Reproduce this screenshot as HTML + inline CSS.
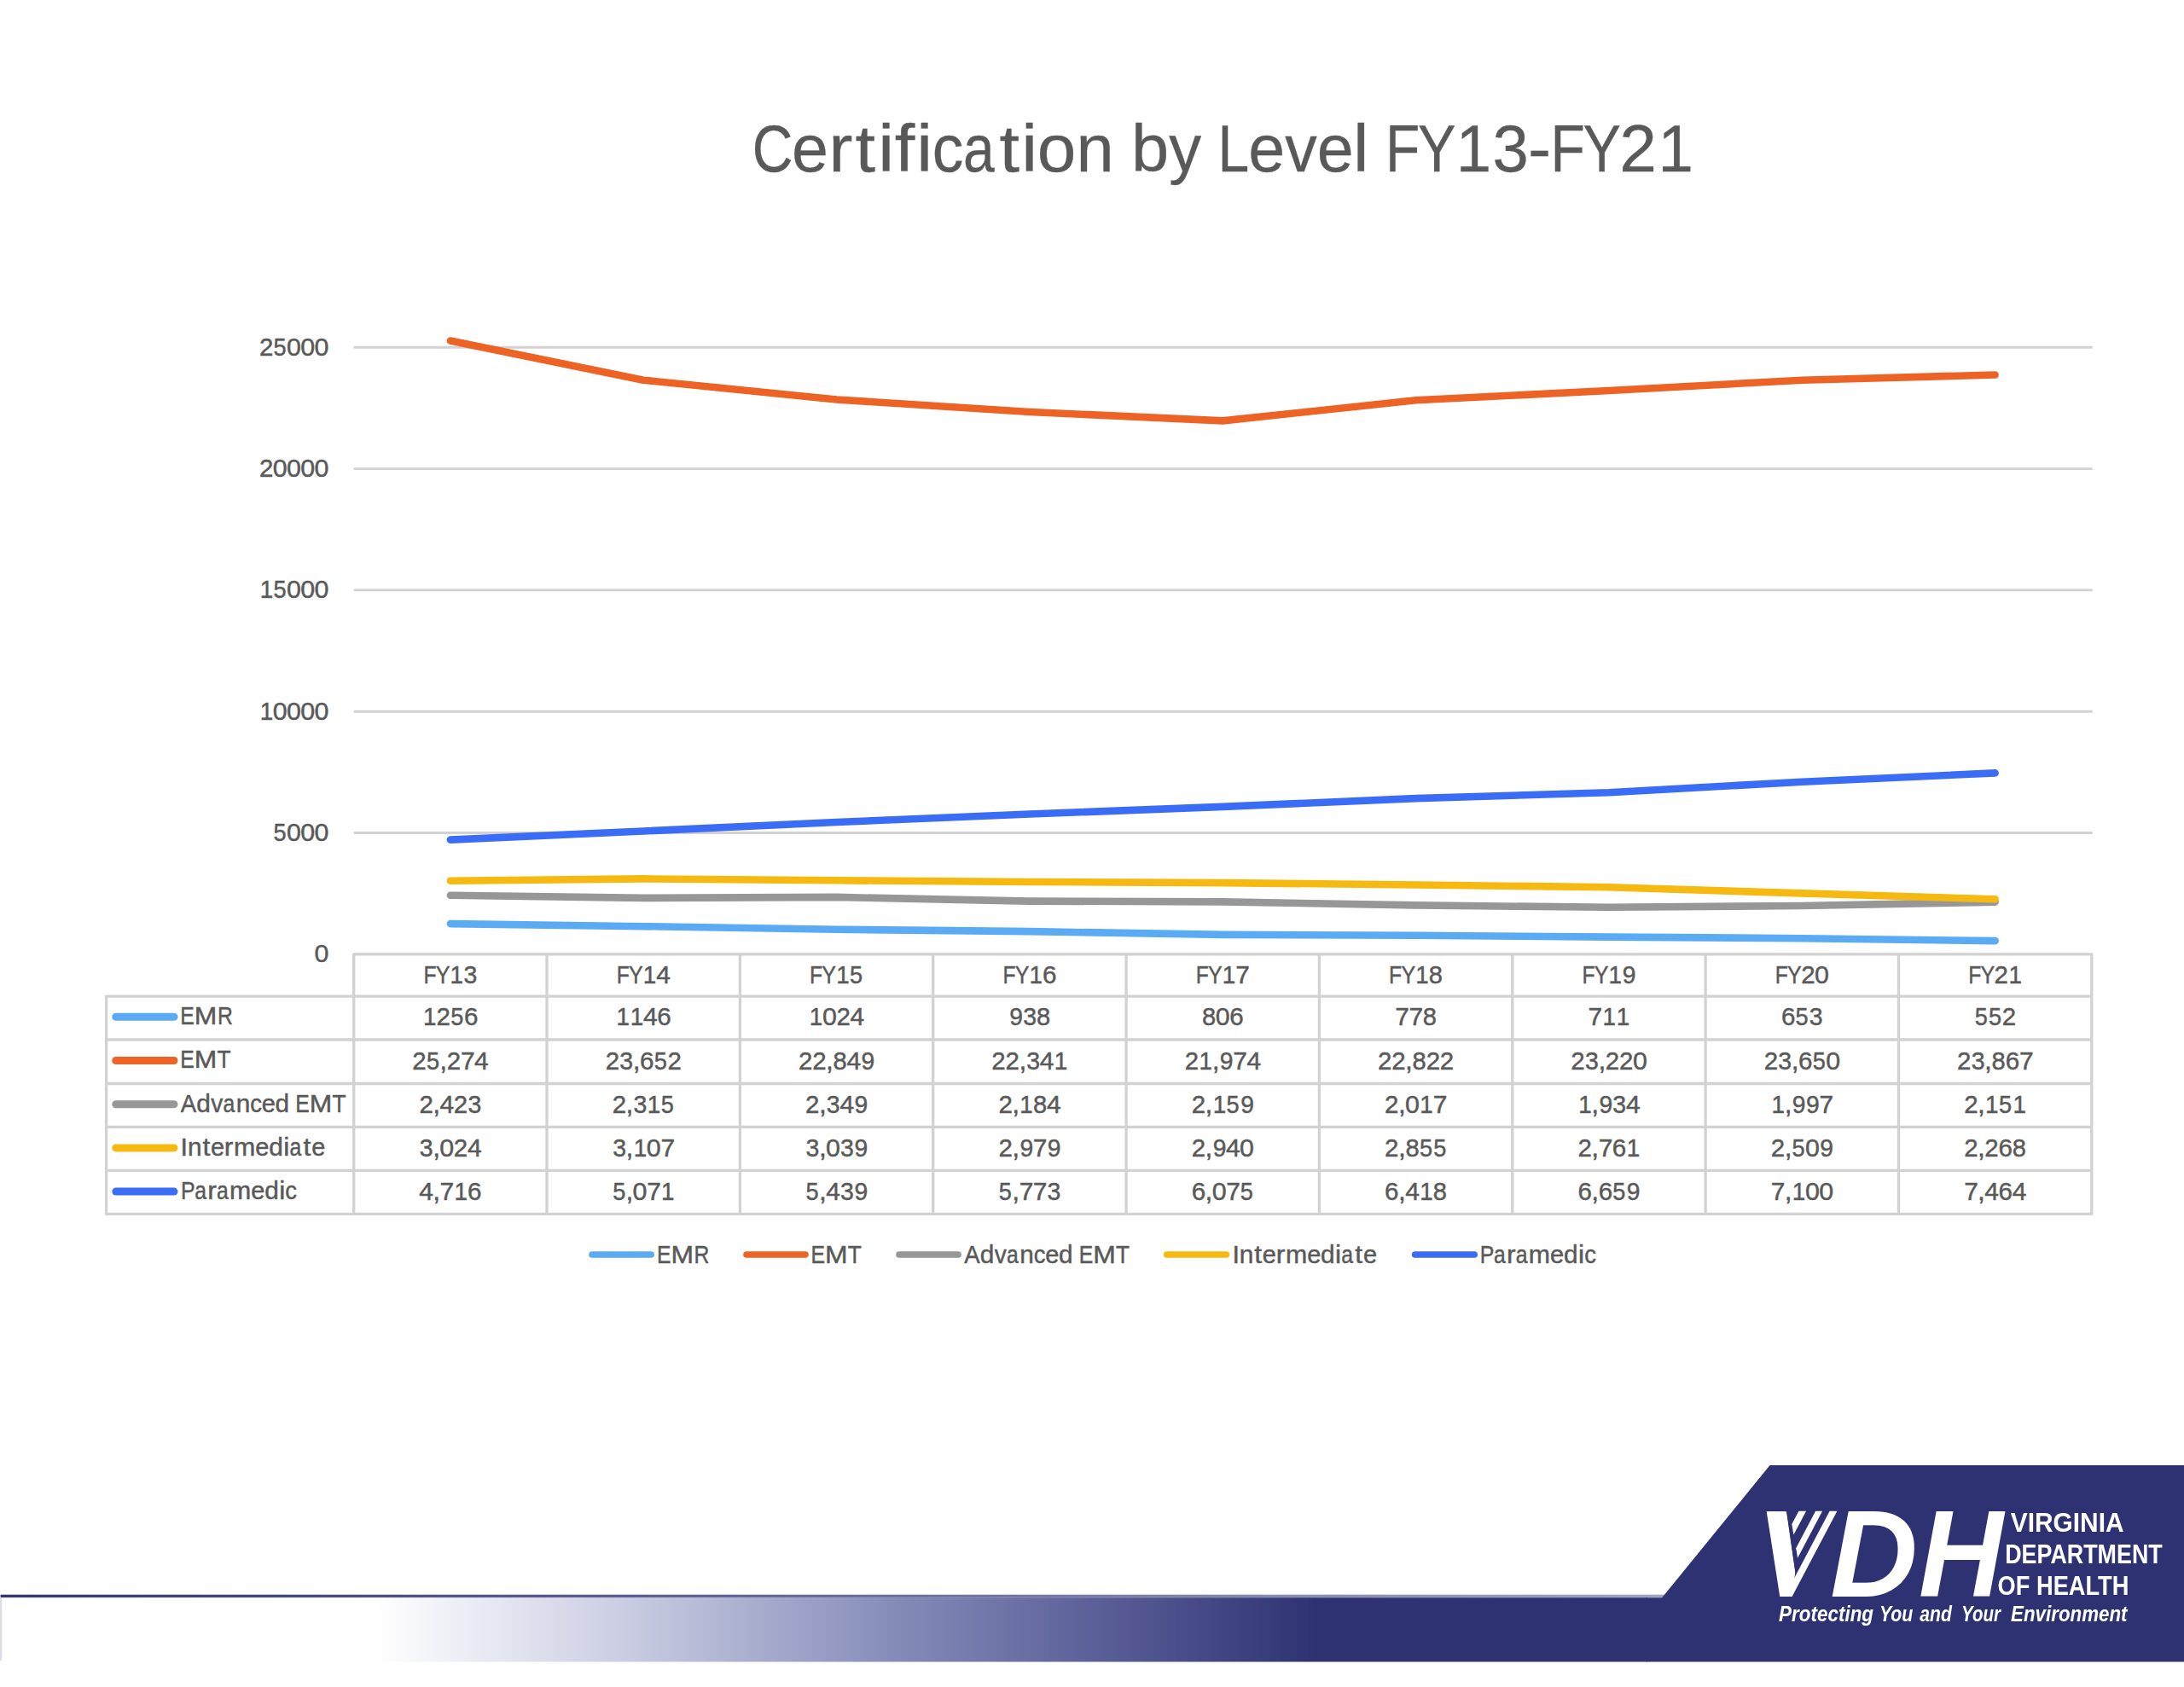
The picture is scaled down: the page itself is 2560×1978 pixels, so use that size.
<!DOCTYPE html>
<html lang="en"><head><meta charset="utf-8"><title>Certification by Level FY13-FY21</title>
<style>html,body{margin:0;padding:0;background:#fff}body{width:2560px;height:1978px;overflow:hidden}
svg{display:block}text{font-family:"Liberation Sans",sans-serif;fill:#595959;stroke:#595959;stroke-width:0.45px;white-space:pre}
.t{font-size:29.5px}.ti{font-size:78.6px;stroke-width:0.3px}
text.lg{fill:#fff;stroke:none}
</style></head><body>
<svg width="2560" height="1978" viewBox="0 0 2560 1978">
<defs><linearGradient id="bar" gradientUnits="userSpaceOnUse" x1="441" x2="1545" y1="0" y2="0"><stop offset="0" stop-color="#fff"/><stop offset="0.25" stop-color="#cdd0e4"/><stop offset="0.55" stop-color="#858cb9"/><stop offset="0.8" stop-color="#545892"/><stop offset="1" stop-color="#2e3272"/></linearGradient><linearGradient id="lineg" gradientUnits="userSpaceOnUse" x1="0" x2="1950" y1="0" y2="0"><stop offset="0" stop-color="#2e3272" stop-opacity="0.98"/><stop offset="1" stop-color="#2e3272" stop-opacity="0.45"/></linearGradient><filter id="soft2" x="-2%" y="-200%" width="104%" height="500%"><feGaussianBlur stdDeviation="0.7"/></filter><filter id="soft" x="-2%" y="-10%" width="104%" height="120%"><feGaussianBlur stdDeviation="0.7"/></filter></defs>
<rect width="2560" height="1978" fill="#fff"/>
<g stroke="#d2d2d2" stroke-width="2.9" fill="none">
<line x1="414.7" x2="2452.7" y1="976.5" y2="976.5"/>
<line x1="414.7" x2="2452.7" y1="834.2" y2="834.2"/>
<line x1="414.7" x2="2452.7" y1="691.9" y2="691.9"/>
<line x1="414.7" x2="2452.7" y1="549.6" y2="549.6"/>
<line x1="414.7" x2="2452.7" y1="407.3" y2="407.3"/>
</g>
<g stroke="#d2d2d2" stroke-width="3.3" fill="none" stroke-linejoin="round">
<path d="M414.7,1118.8 H2451.8 V1423.4 H124.6 V1168.2 H414.7 Z"/>
<line x1="414.7" x2="2451.8" y1="1168.2" y2="1168.2"/>
<line x1="124.6" x2="2451.8" y1="1219.0" y2="1219.0"/>
<line x1="124.6" x2="2451.8" y1="1270.5" y2="1270.5"/>
<line x1="124.6" x2="2451.8" y1="1321.4" y2="1321.4"/>
<line x1="124.6" x2="2451.8" y1="1372.4" y2="1372.4"/>
<line x1="414.7" x2="414.7" y1="1168.2" y2="1423.4"/>
<line x1="641.0" x2="641.0" y1="1118.8" y2="1423.4"/>
<line x1="867.4" x2="867.4" y1="1118.8" y2="1423.4"/>
<line x1="1093.7" x2="1093.7" y1="1118.8" y2="1423.4"/>
<line x1="1320.1" x2="1320.1" y1="1118.8" y2="1423.4"/>
<line x1="1546.4" x2="1546.4" y1="1118.8" y2="1423.4"/>
<line x1="1772.8" x2="1772.8" y1="1118.8" y2="1423.4"/>
<line x1="1999.1" x2="1999.1" y1="1118.8" y2="1423.4"/>
<line x1="2225.5" x2="2225.5" y1="1118.8" y2="1423.4"/>
</g>
<text class="ti" y="200.6"><tspan x="881.76" textLength="47.68" lengthAdjust="spacingAndGlyphs">C</tspan><tspan x="928.04" textLength="42.95" lengthAdjust="spacingAndGlyphs">e</tspan><tspan x="971.16" textLength="28.27" lengthAdjust="spacingAndGlyphs">r</tspan><tspan x="1002.51" textLength="23.58" lengthAdjust="spacingAndGlyphs">t</tspan><tspan x="1029.28" textLength="18.86" lengthAdjust="spacingAndGlyphs">i</tspan><tspan x="1048.68" textLength="23.58" lengthAdjust="spacingAndGlyphs">f</tspan><tspan x="1074.26" textLength="18.86" lengthAdjust="spacingAndGlyphs">i</tspan><tspan x="1092.83" textLength="36.57" lengthAdjust="spacingAndGlyphs">c</tspan><tspan x="1128.93" textLength="36.72" lengthAdjust="spacingAndGlyphs">a</tspan><tspan x="1171.41" textLength="23.58" lengthAdjust="spacingAndGlyphs">t</tspan><tspan x="1197.39" textLength="18.86" lengthAdjust="spacingAndGlyphs">i</tspan><tspan x="1215.71" textLength="45.63" lengthAdjust="spacingAndGlyphs">o</tspan><tspan x="1261.57" textLength="44.23" lengthAdjust="spacingAndGlyphs">n</tspan><tspan x="1305.84"> </tspan><tspan x="1326.00" textLength="44.20" lengthAdjust="spacingAndGlyphs">b</tspan><tspan x="1370.22" textLength="37.91" lengthAdjust="spacingAndGlyphs">y</tspan><tspan x="1408.14"> </tspan><tspan x="1427.55" textLength="36.72" lengthAdjust="spacingAndGlyphs">L</tspan><tspan x="1463.13" textLength="42.95" lengthAdjust="spacingAndGlyphs">e</tspan><tspan x="1506.27" textLength="37.46" lengthAdjust="spacingAndGlyphs">v</tspan><tspan x="1543.69" textLength="42.95" lengthAdjust="spacingAndGlyphs">e</tspan><tspan x="1585.97" textLength="18.53" lengthAdjust="spacingAndGlyphs">l</tspan><tspan x="1605.04"> </tspan><tspan x="1624.02" textLength="40.33" lengthAdjust="spacingAndGlyphs">F</tspan><tspan x="1662.06" textLength="44.50" lengthAdjust="spacingAndGlyphs">Y</tspan><tspan x="1706.81" textLength="41.32" lengthAdjust="spacingAndGlyphs">1</tspan><tspan x="1749.40" textLength="42.27" lengthAdjust="spacingAndGlyphs">3</tspan><tspan x="1791.07" textLength="27.16" lengthAdjust="spacingAndGlyphs">-</tspan><tspan x="1817.38" textLength="40.33" lengthAdjust="spacingAndGlyphs">F</tspan><tspan x="1855.42" textLength="44.50" lengthAdjust="spacingAndGlyphs">Y</tspan><tspan x="1898.34" textLength="43.68" lengthAdjust="spacingAndGlyphs">2</tspan><tspan x="1943.41" textLength="41.32" lengthAdjust="spacingAndGlyphs">1</tspan></text>
<text class="t" y="1128.2"><tspan x="368.55" textLength="16.94" lengthAdjust="spacingAndGlyphs">0</tspan></text>
<text class="t" y="985.9"><tspan x="320.62" textLength="15.10" lengthAdjust="spacingAndGlyphs">5</tspan><tspan x="336.11" textLength="16.94" lengthAdjust="spacingAndGlyphs">0</tspan><tspan x="352.33" textLength="16.94" lengthAdjust="spacingAndGlyphs">0</tspan><tspan x="368.55" textLength="16.94" lengthAdjust="spacingAndGlyphs">0</tspan></text>
<text class="t" y="843.6"><tspan x="304.68" textLength="15.50" lengthAdjust="spacingAndGlyphs">1</tspan><tspan x="319.89" textLength="16.94" lengthAdjust="spacingAndGlyphs">0</tspan><tspan x="336.11" textLength="16.94" lengthAdjust="spacingAndGlyphs">0</tspan><tspan x="352.33" textLength="16.94" lengthAdjust="spacingAndGlyphs">0</tspan><tspan x="368.55" textLength="16.94" lengthAdjust="spacingAndGlyphs">0</tspan></text>
<text class="t" y="701.3"><tspan x="304.68" textLength="15.50" lengthAdjust="spacingAndGlyphs">1</tspan><tspan x="320.62" textLength="15.10" lengthAdjust="spacingAndGlyphs">5</tspan><tspan x="336.11" textLength="16.94" lengthAdjust="spacingAndGlyphs">0</tspan><tspan x="352.33" textLength="16.94" lengthAdjust="spacingAndGlyphs">0</tspan><tspan x="368.55" textLength="16.94" lengthAdjust="spacingAndGlyphs">0</tspan></text>
<text class="t" y="559.0"><tspan x="303.99" textLength="16.39" lengthAdjust="spacingAndGlyphs">2</tspan><tspan x="319.89" textLength="16.94" lengthAdjust="spacingAndGlyphs">0</tspan><tspan x="336.11" textLength="16.94" lengthAdjust="spacingAndGlyphs">0</tspan><tspan x="352.33" textLength="16.94" lengthAdjust="spacingAndGlyphs">0</tspan><tspan x="368.55" textLength="16.94" lengthAdjust="spacingAndGlyphs">0</tspan></text>
<text class="t" y="416.7"><tspan x="303.99" textLength="16.39" lengthAdjust="spacingAndGlyphs">2</tspan><tspan x="320.62" textLength="15.10" lengthAdjust="spacingAndGlyphs">5</tspan><tspan x="336.11" textLength="16.94" lengthAdjust="spacingAndGlyphs">0</tspan><tspan x="352.33" textLength="16.94" lengthAdjust="spacingAndGlyphs">0</tspan><tspan x="368.55" textLength="16.94" lengthAdjust="spacingAndGlyphs">0</tspan></text>
<text class="t" y="1152.8"><tspan x="496.39" textLength="15.14" lengthAdjust="spacingAndGlyphs">F</tspan><tspan x="510.66" textLength="16.69" lengthAdjust="spacingAndGlyphs">Y</tspan><tspan x="527.44" textLength="15.50" lengthAdjust="spacingAndGlyphs">1</tspan><tspan x="543.42" textLength="15.85" lengthAdjust="spacingAndGlyphs">3</tspan></text>
<text class="t" y="1152.8"><tspan x="722.73" textLength="15.14" lengthAdjust="spacingAndGlyphs">F</tspan><tspan x="737.00" textLength="16.69" lengthAdjust="spacingAndGlyphs">Y</tspan><tspan x="753.79" textLength="15.50" lengthAdjust="spacingAndGlyphs">1</tspan><tspan x="769.22" textLength="16.71" lengthAdjust="spacingAndGlyphs">4</tspan></text>
<text class="t" y="1152.8"><tspan x="949.07" textLength="15.14" lengthAdjust="spacingAndGlyphs">F</tspan><tspan x="963.35" textLength="16.69" lengthAdjust="spacingAndGlyphs">Y</tspan><tspan x="980.13" textLength="15.50" lengthAdjust="spacingAndGlyphs">1</tspan><tspan x="996.08" textLength="15.10" lengthAdjust="spacingAndGlyphs">5</tspan></text>
<text class="t" y="1152.8"><tspan x="1175.42" textLength="15.14" lengthAdjust="spacingAndGlyphs">F</tspan><tspan x="1189.69" textLength="16.69" lengthAdjust="spacingAndGlyphs">Y</tspan><tspan x="1206.48" textLength="15.50" lengthAdjust="spacingAndGlyphs">1</tspan><tspan x="1221.99" textLength="16.48" lengthAdjust="spacingAndGlyphs">6</tspan></text>
<text class="t" y="1152.8"><tspan x="1401.76" textLength="15.14" lengthAdjust="spacingAndGlyphs">F</tspan><tspan x="1416.04" textLength="16.69" lengthAdjust="spacingAndGlyphs">Y</tspan><tspan x="1432.82" textLength="15.50" lengthAdjust="spacingAndGlyphs">1</tspan><tspan x="1448.39" textLength="16.71" lengthAdjust="spacingAndGlyphs">7</tspan></text>
<text class="t" y="1152.8"><tspan x="1628.11" textLength="15.14" lengthAdjust="spacingAndGlyphs">F</tspan><tspan x="1642.38" textLength="16.69" lengthAdjust="spacingAndGlyphs">Y</tspan><tspan x="1659.17" textLength="15.50" lengthAdjust="spacingAndGlyphs">1</tspan><tspan x="1674.76" textLength="16.19" lengthAdjust="spacingAndGlyphs">8</tspan></text>
<text class="t" y="1152.8"><tspan x="1854.45" textLength="15.14" lengthAdjust="spacingAndGlyphs">F</tspan><tspan x="1868.72" textLength="16.69" lengthAdjust="spacingAndGlyphs">Y</tspan><tspan x="1885.51" textLength="15.50" lengthAdjust="spacingAndGlyphs">1</tspan><tspan x="1901.81" textLength="15.75" lengthAdjust="spacingAndGlyphs">9</tspan></text>
<text class="t" y="1152.8"><tspan x="2080.80" textLength="15.14" lengthAdjust="spacingAndGlyphs">F</tspan><tspan x="2095.07" textLength="16.69" lengthAdjust="spacingAndGlyphs">Y</tspan><tspan x="2111.17" textLength="16.39" lengthAdjust="spacingAndGlyphs">2</tspan><tspan x="2127.07" textLength="16.94" lengthAdjust="spacingAndGlyphs">0</tspan></text>
<text class="t" y="1152.8"><tspan x="2307.14" textLength="15.14" lengthAdjust="spacingAndGlyphs">F</tspan><tspan x="2321.41" textLength="16.69" lengthAdjust="spacingAndGlyphs">Y</tspan><tspan x="2337.51" textLength="16.39" lengthAdjust="spacingAndGlyphs">2</tspan><tspan x="2354.42" textLength="15.50" lengthAdjust="spacingAndGlyphs">1</tspan></text>
<text class="t" y="1201.2"><tspan x="211.33" textLength="16.53" lengthAdjust="spacingAndGlyphs">E</tspan><tspan x="227.83" textLength="26.54" lengthAdjust="spacingAndGlyphs">M</tspan><tspan x="255.00" textLength="17.90" lengthAdjust="spacingAndGlyphs">R</tspan></text>
<text class="t" y="1252.4"><tspan x="211.33" textLength="16.53" lengthAdjust="spacingAndGlyphs">E</tspan><tspan x="227.83" textLength="26.54" lengthAdjust="spacingAndGlyphs">M</tspan><tspan x="254.57" textLength="16.04" lengthAdjust="spacingAndGlyphs">T</tspan></text>
<text class="t" y="1303.6"><tspan x="211.87" textLength="18.39" lengthAdjust="spacingAndGlyphs">A</tspan><tspan x="230.22" textLength="16.58" lengthAdjust="spacingAndGlyphs">d</tspan><tspan x="247.33" textLength="14.05" lengthAdjust="spacingAndGlyphs">v</tspan><tspan x="261.50" textLength="13.78" lengthAdjust="spacingAndGlyphs">a</tspan><tspan x="276.65" textLength="16.59" lengthAdjust="spacingAndGlyphs">n</tspan><tspan x="293.17" textLength="13.72" lengthAdjust="spacingAndGlyphs">c</tspan><tspan x="306.73" textLength="16.11" lengthAdjust="spacingAndGlyphs">e</tspan><tspan x="322.61" textLength="16.58" lengthAdjust="spacingAndGlyphs">d</tspan><tspan x="339.52"> </tspan><tspan x="346.28" textLength="16.53" lengthAdjust="spacingAndGlyphs">E</tspan><tspan x="362.79" textLength="26.54" lengthAdjust="spacingAndGlyphs">M</tspan><tspan x="389.52" textLength="16.04" lengthAdjust="spacingAndGlyphs">T</tspan></text>
<text class="t" y="1354.8"><tspan x="211.60" textLength="8.47" lengthAdjust="spacingAndGlyphs">I</tspan><tspan x="220.07" textLength="16.59" lengthAdjust="spacingAndGlyphs">n</tspan><tspan x="237.47" textLength="8.85" lengthAdjust="spacingAndGlyphs">t</tspan><tspan x="247.04" textLength="16.11" lengthAdjust="spacingAndGlyphs">e</tspan><tspan x="262.87" textLength="10.61" lengthAdjust="spacingAndGlyphs">r</tspan><tspan x="274.12" textLength="25.23" lengthAdjust="spacingAndGlyphs">m</tspan><tspan x="299.33" textLength="16.11" lengthAdjust="spacingAndGlyphs">e</tspan><tspan x="315.22" textLength="16.58" lengthAdjust="spacingAndGlyphs">d</tspan><tspan x="332.25" textLength="7.08" lengthAdjust="spacingAndGlyphs">i</tspan><tspan x="339.39" textLength="13.78" lengthAdjust="spacingAndGlyphs">a</tspan><tspan x="355.59" textLength="8.85" lengthAdjust="spacingAndGlyphs">t</tspan><tspan x="365.16" textLength="16.11" lengthAdjust="spacingAndGlyphs">e</tspan></text>
<text class="t" y="1406.0"><tspan x="212.06" textLength="16.59" lengthAdjust="spacingAndGlyphs">P</tspan><tspan x="228.25" textLength="13.78" lengthAdjust="spacingAndGlyphs">a</tspan><tspan x="243.16" textLength="10.61" lengthAdjust="spacingAndGlyphs">r</tspan><tspan x="254.05" textLength="13.78" lengthAdjust="spacingAndGlyphs">a</tspan><tspan x="269.09" textLength="25.23" lengthAdjust="spacingAndGlyphs">m</tspan><tspan x="294.30" textLength="16.11" lengthAdjust="spacingAndGlyphs">e</tspan><tspan x="310.19" textLength="16.58" lengthAdjust="spacingAndGlyphs">d</tspan><tspan x="327.21" textLength="7.08" lengthAdjust="spacingAndGlyphs">i</tspan><tspan x="334.35" textLength="13.72" lengthAdjust="spacingAndGlyphs">c</tspan></text>
<text class="t" y="1202.3"><tspan x="496.08" textLength="15.50" lengthAdjust="spacingAndGlyphs">1</tspan><tspan x="511.61" textLength="16.39" lengthAdjust="spacingAndGlyphs">2</tspan><tspan x="528.24" textLength="15.10" lengthAdjust="spacingAndGlyphs">5</tspan><tspan x="544.02" textLength="16.48" lengthAdjust="spacingAndGlyphs">6</tspan></text>
<text class="t" y="1202.3"><tspan x="722.42" textLength="15.50" lengthAdjust="spacingAndGlyphs">1</tspan><tspan x="738.64" textLength="15.50" lengthAdjust="spacingAndGlyphs">1</tspan><tspan x="754.07" textLength="16.71" lengthAdjust="spacingAndGlyphs">4</tspan><tspan x="770.37" textLength="16.48" lengthAdjust="spacingAndGlyphs">6</tspan></text>
<text class="t" y="1202.3"><tspan x="948.77" textLength="15.50" lengthAdjust="spacingAndGlyphs">1</tspan><tspan x="963.98" textLength="16.94" lengthAdjust="spacingAndGlyphs">0</tspan><tspan x="980.52" textLength="16.39" lengthAdjust="spacingAndGlyphs">2</tspan><tspan x="996.64" textLength="16.71" lengthAdjust="spacingAndGlyphs">4</tspan></text>
<text class="t" y="1202.3"><tspan x="1183.30" textLength="15.75" lengthAdjust="spacingAndGlyphs">9</tspan><tspan x="1199.19" textLength="15.85" lengthAdjust="spacingAndGlyphs">3</tspan><tspan x="1215.03" textLength="16.19" lengthAdjust="spacingAndGlyphs">8</tspan></text>
<text class="t" y="1202.3"><tspan x="1408.94" textLength="16.19" lengthAdjust="spacingAndGlyphs">8</tspan><tspan x="1424.78" textLength="16.94" lengthAdjust="spacingAndGlyphs">0</tspan><tspan x="1441.29" textLength="16.48" lengthAdjust="spacingAndGlyphs">6</tspan></text>
<text class="t" y="1202.3"><tspan x="1635.26" textLength="16.71" lengthAdjust="spacingAndGlyphs">7</tspan><tspan x="1651.48" textLength="16.71" lengthAdjust="spacingAndGlyphs">7</tspan><tspan x="1667.72" textLength="16.19" lengthAdjust="spacingAndGlyphs">8</tspan></text>
<text class="t" y="1202.3"><tspan x="1861.60" textLength="16.71" lengthAdjust="spacingAndGlyphs">7</tspan><tspan x="1878.47" textLength="15.50" lengthAdjust="spacingAndGlyphs">1</tspan><tspan x="1894.69" textLength="15.50" lengthAdjust="spacingAndGlyphs">1</tspan></text>
<text class="t" y="1202.3"><tspan x="2087.89" textLength="16.48" lengthAdjust="spacingAndGlyphs">6</tspan><tspan x="2104.54" textLength="15.10" lengthAdjust="spacingAndGlyphs">5</tspan><tspan x="2120.79" textLength="15.85" lengthAdjust="spacingAndGlyphs">3</tspan></text>
<text class="t" y="1202.3"><tspan x="2314.67" textLength="15.10" lengthAdjust="spacingAndGlyphs">5</tspan><tspan x="2330.88" textLength="15.10" lengthAdjust="spacingAndGlyphs">5</tspan><tspan x="2346.69" textLength="16.39" lengthAdjust="spacingAndGlyphs">2</tspan></text>
<text class="t" y="1253.5"><tspan x="483.29" textLength="16.39" lengthAdjust="spacingAndGlyphs">2</tspan><tspan x="499.92" textLength="15.10" lengthAdjust="spacingAndGlyphs">5</tspan><tspan x="515.38" textLength="8.85" lengthAdjust="spacingAndGlyphs">,</tspan><tspan x="523.71" textLength="16.39" lengthAdjust="spacingAndGlyphs">2</tspan><tspan x="539.96" textLength="16.71" lengthAdjust="spacingAndGlyphs">7</tspan><tspan x="556.05" textLength="16.71" lengthAdjust="spacingAndGlyphs">4</tspan></text>
<text class="t" y="1253.5"><tspan x="709.63" textLength="16.39" lengthAdjust="spacingAndGlyphs">2</tspan><tspan x="726.30" textLength="15.85" lengthAdjust="spacingAndGlyphs">3</tspan><tspan x="741.72" textLength="8.85" lengthAdjust="spacingAndGlyphs">,</tspan><tspan x="750.03" textLength="16.48" lengthAdjust="spacingAndGlyphs">6</tspan><tspan x="766.68" textLength="15.10" lengthAdjust="spacingAndGlyphs">5</tspan><tspan x="782.49" textLength="16.39" lengthAdjust="spacingAndGlyphs">2</tspan></text>
<text class="t" y="1253.5"><tspan x="935.98" textLength="16.39" lengthAdjust="spacingAndGlyphs">2</tspan><tspan x="952.20" textLength="16.39" lengthAdjust="spacingAndGlyphs">2</tspan><tspan x="968.06" textLength="8.85" lengthAdjust="spacingAndGlyphs">,</tspan><tspan x="976.46" textLength="16.19" lengthAdjust="spacingAndGlyphs">8</tspan><tspan x="992.52" textLength="16.71" lengthAdjust="spacingAndGlyphs">4</tspan><tspan x="1009.60" textLength="15.75" lengthAdjust="spacingAndGlyphs">9</tspan></text>
<text class="t" y="1253.5"><tspan x="1162.32" textLength="16.39" lengthAdjust="spacingAndGlyphs">2</tspan><tspan x="1178.54" textLength="16.39" lengthAdjust="spacingAndGlyphs">2</tspan><tspan x="1194.41" textLength="8.85" lengthAdjust="spacingAndGlyphs">,</tspan><tspan x="1203.19" textLength="15.85" lengthAdjust="spacingAndGlyphs">3</tspan><tspan x="1218.86" textLength="16.71" lengthAdjust="spacingAndGlyphs">4</tspan><tspan x="1235.87" textLength="15.50" lengthAdjust="spacingAndGlyphs">1</tspan></text>
<text class="t" y="1253.5"><tspan x="1388.67" textLength="16.39" lengthAdjust="spacingAndGlyphs">2</tspan><tspan x="1405.57" textLength="15.50" lengthAdjust="spacingAndGlyphs">1</tspan><tspan x="1420.75" textLength="8.85" lengthAdjust="spacingAndGlyphs">,</tspan><tspan x="1429.85" textLength="15.75" lengthAdjust="spacingAndGlyphs">9</tspan><tspan x="1445.34" textLength="16.71" lengthAdjust="spacingAndGlyphs">7</tspan><tspan x="1461.43" textLength="16.71" lengthAdjust="spacingAndGlyphs">4</tspan></text>
<text class="t" y="1253.5"><tspan x="1615.01" textLength="16.39" lengthAdjust="spacingAndGlyphs">2</tspan><tspan x="1631.23" textLength="16.39" lengthAdjust="spacingAndGlyphs">2</tspan><tspan x="1647.10" textLength="8.85" lengthAdjust="spacingAndGlyphs">,</tspan><tspan x="1655.49" textLength="16.19" lengthAdjust="spacingAndGlyphs">8</tspan><tspan x="1671.65" textLength="16.39" lengthAdjust="spacingAndGlyphs">2</tspan><tspan x="1687.87" textLength="16.39" lengthAdjust="spacingAndGlyphs">2</tspan></text>
<text class="t" y="1253.5"><tspan x="1841.36" textLength="16.39" lengthAdjust="spacingAndGlyphs">2</tspan><tspan x="1858.02" textLength="15.85" lengthAdjust="spacingAndGlyphs">3</tspan><tspan x="1873.44" textLength="8.85" lengthAdjust="spacingAndGlyphs">,</tspan><tspan x="1881.78" textLength="16.39" lengthAdjust="spacingAndGlyphs">2</tspan><tspan x="1898.00" textLength="16.39" lengthAdjust="spacingAndGlyphs">2</tspan><tspan x="1913.90" textLength="16.94" lengthAdjust="spacingAndGlyphs">0</tspan></text>
<text class="t" y="1253.5"><tspan x="2067.70" textLength="16.39" lengthAdjust="spacingAndGlyphs">2</tspan><tspan x="2084.36" textLength="15.85" lengthAdjust="spacingAndGlyphs">3</tspan><tspan x="2099.79" textLength="8.85" lengthAdjust="spacingAndGlyphs">,</tspan><tspan x="2108.10" textLength="16.48" lengthAdjust="spacingAndGlyphs">6</tspan><tspan x="2124.75" textLength="15.10" lengthAdjust="spacingAndGlyphs">5</tspan><tspan x="2140.24" textLength="16.94" lengthAdjust="spacingAndGlyphs">0</tspan></text>
<text class="t" y="1253.5"><tspan x="2294.04" textLength="16.39" lengthAdjust="spacingAndGlyphs">2</tspan><tspan x="2310.71" textLength="15.85" lengthAdjust="spacingAndGlyphs">3</tspan><tspan x="2326.13" textLength="8.85" lengthAdjust="spacingAndGlyphs">,</tspan><tspan x="2334.53" textLength="16.19" lengthAdjust="spacingAndGlyphs">8</tspan><tspan x="2350.66" textLength="16.48" lengthAdjust="spacingAndGlyphs">6</tspan><tspan x="2366.94" textLength="16.71" lengthAdjust="spacingAndGlyphs">7</tspan></text>
<text class="t" y="1304.7"><tspan x="491.40" textLength="16.39" lengthAdjust="spacingAndGlyphs">2</tspan><tspan x="507.27" textLength="8.85" lengthAdjust="spacingAndGlyphs">,</tspan><tspan x="515.50" textLength="16.71" lengthAdjust="spacingAndGlyphs">4</tspan><tspan x="531.82" textLength="16.39" lengthAdjust="spacingAndGlyphs">2</tspan><tspan x="548.48" textLength="15.85" lengthAdjust="spacingAndGlyphs">3</tspan></text>
<text class="t" y="1304.7"><tspan x="717.74" textLength="16.39" lengthAdjust="spacingAndGlyphs">2</tspan><tspan x="733.61" textLength="8.85" lengthAdjust="spacingAndGlyphs">,</tspan><tspan x="742.39" textLength="15.85" lengthAdjust="spacingAndGlyphs">3</tspan><tspan x="758.85" textLength="15.50" lengthAdjust="spacingAndGlyphs">1</tspan><tspan x="774.79" textLength="15.10" lengthAdjust="spacingAndGlyphs">5</tspan></text>
<text class="t" y="1304.7"><tspan x="944.09" textLength="16.39" lengthAdjust="spacingAndGlyphs">2</tspan><tspan x="959.96" textLength="8.85" lengthAdjust="spacingAndGlyphs">,</tspan><tspan x="968.73" textLength="15.85" lengthAdjust="spacingAndGlyphs">3</tspan><tspan x="984.41" textLength="16.71" lengthAdjust="spacingAndGlyphs">4</tspan><tspan x="1001.49" textLength="15.75" lengthAdjust="spacingAndGlyphs">9</tspan></text>
<text class="t" y="1304.7"><tspan x="1170.43" textLength="16.39" lengthAdjust="spacingAndGlyphs">2</tspan><tspan x="1186.30" textLength="8.85" lengthAdjust="spacingAndGlyphs">,</tspan><tspan x="1195.32" textLength="15.50" lengthAdjust="spacingAndGlyphs">1</tspan><tspan x="1210.91" textLength="16.19" lengthAdjust="spacingAndGlyphs">8</tspan><tspan x="1226.97" textLength="16.71" lengthAdjust="spacingAndGlyphs">4</tspan></text>
<text class="t" y="1304.7"><tspan x="1396.78" textLength="16.39" lengthAdjust="spacingAndGlyphs">2</tspan><tspan x="1412.64" textLength="8.85" lengthAdjust="spacingAndGlyphs">,</tspan><tspan x="1421.67" textLength="15.50" lengthAdjust="spacingAndGlyphs">1</tspan><tspan x="1437.61" textLength="15.10" lengthAdjust="spacingAndGlyphs">5</tspan><tspan x="1454.18" textLength="15.75" lengthAdjust="spacingAndGlyphs">9</tspan></text>
<text class="t" y="1304.7"><tspan x="1623.12" textLength="16.39" lengthAdjust="spacingAndGlyphs">2</tspan><tspan x="1638.99" textLength="8.85" lengthAdjust="spacingAndGlyphs">,</tspan><tspan x="1647.01" textLength="16.94" lengthAdjust="spacingAndGlyphs">0</tspan><tspan x="1664.23" textLength="15.50" lengthAdjust="spacingAndGlyphs">1</tspan><tspan x="1679.80" textLength="16.71" lengthAdjust="spacingAndGlyphs">7</tspan></text>
<text class="t" y="1304.7"><tspan x="1850.15" textLength="15.50" lengthAdjust="spacingAndGlyphs">1</tspan><tspan x="1865.33" textLength="8.85" lengthAdjust="spacingAndGlyphs">,</tspan><tspan x="1874.43" textLength="15.75" lengthAdjust="spacingAndGlyphs">9</tspan><tspan x="1890.33" textLength="15.85" lengthAdjust="spacingAndGlyphs">3</tspan><tspan x="1906.01" textLength="16.71" lengthAdjust="spacingAndGlyphs">4</tspan></text>
<text class="t" y="1304.7"><tspan x="2076.50" textLength="15.50" lengthAdjust="spacingAndGlyphs">1</tspan><tspan x="2091.68" textLength="8.85" lengthAdjust="spacingAndGlyphs">,</tspan><tspan x="2100.78" textLength="15.75" lengthAdjust="spacingAndGlyphs">9</tspan><tspan x="2117.00" textLength="15.75" lengthAdjust="spacingAndGlyphs">9</tspan><tspan x="2132.49" textLength="16.71" lengthAdjust="spacingAndGlyphs">7</tspan></text>
<text class="t" y="1304.7"><tspan x="2302.15" textLength="16.39" lengthAdjust="spacingAndGlyphs">2</tspan><tspan x="2318.02" textLength="8.85" lengthAdjust="spacingAndGlyphs">,</tspan><tspan x="2327.04" textLength="15.50" lengthAdjust="spacingAndGlyphs">1</tspan><tspan x="2342.99" textLength="15.10" lengthAdjust="spacingAndGlyphs">5</tspan><tspan x="2359.48" textLength="15.50" lengthAdjust="spacingAndGlyphs">1</tspan></text>
<text class="t" y="1355.9"><tspan x="491.84" textLength="15.85" lengthAdjust="spacingAndGlyphs">3</tspan><tspan x="507.27" textLength="8.85" lengthAdjust="spacingAndGlyphs">,</tspan><tspan x="515.28" textLength="16.94" lengthAdjust="spacingAndGlyphs">0</tspan><tspan x="531.82" textLength="16.39" lengthAdjust="spacingAndGlyphs">2</tspan><tspan x="547.94" textLength="16.71" lengthAdjust="spacingAndGlyphs">4</tspan></text>
<text class="t" y="1355.9"><tspan x="718.19" textLength="15.85" lengthAdjust="spacingAndGlyphs">3</tspan><tspan x="733.61" textLength="8.85" lengthAdjust="spacingAndGlyphs">,</tspan><tspan x="742.63" textLength="15.50" lengthAdjust="spacingAndGlyphs">1</tspan><tspan x="757.85" textLength="16.94" lengthAdjust="spacingAndGlyphs">0</tspan><tspan x="774.42" textLength="16.71" lengthAdjust="spacingAndGlyphs">7</tspan></text>
<text class="t" y="1355.9"><tspan x="944.53" textLength="15.85" lengthAdjust="spacingAndGlyphs">3</tspan><tspan x="959.96" textLength="8.85" lengthAdjust="spacingAndGlyphs">,</tspan><tspan x="967.97" textLength="16.94" lengthAdjust="spacingAndGlyphs">0</tspan><tspan x="984.95" textLength="15.85" lengthAdjust="spacingAndGlyphs">3</tspan><tspan x="1001.49" textLength="15.75" lengthAdjust="spacingAndGlyphs">9</tspan></text>
<text class="t" y="1355.9"><tspan x="1170.43" textLength="16.39" lengthAdjust="spacingAndGlyphs">2</tspan><tspan x="1186.30" textLength="8.85" lengthAdjust="spacingAndGlyphs">,</tspan><tspan x="1195.40" textLength="15.75" lengthAdjust="spacingAndGlyphs">9</tspan><tspan x="1210.89" textLength="16.71" lengthAdjust="spacingAndGlyphs">7</tspan><tspan x="1227.84" textLength="15.75" lengthAdjust="spacingAndGlyphs">9</tspan></text>
<text class="t" y="1355.9"><tspan x="1396.78" textLength="16.39" lengthAdjust="spacingAndGlyphs">2</tspan><tspan x="1412.64" textLength="8.85" lengthAdjust="spacingAndGlyphs">,</tspan><tspan x="1421.74" textLength="15.75" lengthAdjust="spacingAndGlyphs">9</tspan><tspan x="1437.10" textLength="16.71" lengthAdjust="spacingAndGlyphs">4</tspan><tspan x="1453.10" textLength="16.94" lengthAdjust="spacingAndGlyphs">0</tspan></text>
<text class="t" y="1355.9"><tspan x="1623.12" textLength="16.39" lengthAdjust="spacingAndGlyphs">2</tspan><tspan x="1638.99" textLength="8.85" lengthAdjust="spacingAndGlyphs">,</tspan><tspan x="1647.38" textLength="16.19" lengthAdjust="spacingAndGlyphs">8</tspan><tspan x="1663.95" textLength="15.10" lengthAdjust="spacingAndGlyphs">5</tspan><tspan x="1680.17" textLength="15.10" lengthAdjust="spacingAndGlyphs">5</tspan></text>
<text class="t" y="1355.9"><tspan x="1849.46" textLength="16.39" lengthAdjust="spacingAndGlyphs">2</tspan><tspan x="1865.33" textLength="8.85" lengthAdjust="spacingAndGlyphs">,</tspan><tspan x="1873.70" textLength="16.71" lengthAdjust="spacingAndGlyphs">7</tspan><tspan x="1889.86" textLength="16.48" lengthAdjust="spacingAndGlyphs">6</tspan><tspan x="1906.79" textLength="15.50" lengthAdjust="spacingAndGlyphs">1</tspan></text>
<text class="t" y="1355.9"><tspan x="2075.81" textLength="16.39" lengthAdjust="spacingAndGlyphs">2</tspan><tspan x="2091.68" textLength="8.85" lengthAdjust="spacingAndGlyphs">,</tspan><tspan x="2100.42" textLength="15.10" lengthAdjust="spacingAndGlyphs">5</tspan><tspan x="2115.91" textLength="16.94" lengthAdjust="spacingAndGlyphs">0</tspan><tspan x="2133.21" textLength="15.75" lengthAdjust="spacingAndGlyphs">9</tspan></text>
<text class="t" y="1355.9"><tspan x="2302.15" textLength="16.39" lengthAdjust="spacingAndGlyphs">2</tspan><tspan x="2318.02" textLength="8.85" lengthAdjust="spacingAndGlyphs">,</tspan><tspan x="2326.36" textLength="16.39" lengthAdjust="spacingAndGlyphs">2</tspan><tspan x="2342.55" textLength="16.48" lengthAdjust="spacingAndGlyphs">6</tspan><tspan x="2358.86" textLength="16.19" lengthAdjust="spacingAndGlyphs">8</tspan></text>
<text class="t" y="1407.1"><tspan x="491.30" textLength="16.71" lengthAdjust="spacingAndGlyphs">4</tspan><tspan x="507.27" textLength="8.85" lengthAdjust="spacingAndGlyphs">,</tspan><tspan x="515.64" textLength="16.71" lengthAdjust="spacingAndGlyphs">7</tspan><tspan x="532.51" textLength="15.50" lengthAdjust="spacingAndGlyphs">1</tspan><tspan x="548.02" textLength="16.48" lengthAdjust="spacingAndGlyphs">6</tspan></text>
<text class="t" y="1407.1"><tspan x="718.15" textLength="15.10" lengthAdjust="spacingAndGlyphs">5</tspan><tspan x="733.61" textLength="8.85" lengthAdjust="spacingAndGlyphs">,</tspan><tspan x="741.63" textLength="16.94" lengthAdjust="spacingAndGlyphs">0</tspan><tspan x="758.20" textLength="16.71" lengthAdjust="spacingAndGlyphs">7</tspan><tspan x="775.07" textLength="15.50" lengthAdjust="spacingAndGlyphs">1</tspan></text>
<text class="t" y="1407.1"><tspan x="944.50" textLength="15.10" lengthAdjust="spacingAndGlyphs">5</tspan><tspan x="959.96" textLength="8.85" lengthAdjust="spacingAndGlyphs">,</tspan><tspan x="968.19" textLength="16.71" lengthAdjust="spacingAndGlyphs">4</tspan><tspan x="984.95" textLength="15.85" lengthAdjust="spacingAndGlyphs">3</tspan><tspan x="1001.49" textLength="15.75" lengthAdjust="spacingAndGlyphs">9</tspan></text>
<text class="t" y="1407.1"><tspan x="1170.84" textLength="15.10" lengthAdjust="spacingAndGlyphs">5</tspan><tspan x="1186.30" textLength="8.85" lengthAdjust="spacingAndGlyphs">,</tspan><tspan x="1194.67" textLength="16.71" lengthAdjust="spacingAndGlyphs">7</tspan><tspan x="1210.89" textLength="16.71" lengthAdjust="spacingAndGlyphs">7</tspan><tspan x="1227.52" textLength="15.85" lengthAdjust="spacingAndGlyphs">3</tspan></text>
<text class="t" y="1407.1"><tspan x="1396.75" textLength="16.48" lengthAdjust="spacingAndGlyphs">6</tspan><tspan x="1412.64" textLength="8.85" lengthAdjust="spacingAndGlyphs">,</tspan><tspan x="1420.66" textLength="16.94" lengthAdjust="spacingAndGlyphs">0</tspan><tspan x="1437.23" textLength="16.71" lengthAdjust="spacingAndGlyphs">7</tspan><tspan x="1453.83" textLength="15.10" lengthAdjust="spacingAndGlyphs">5</tspan></text>
<text class="t" y="1407.1"><tspan x="1623.10" textLength="16.48" lengthAdjust="spacingAndGlyphs">6</tspan><tspan x="1638.99" textLength="8.85" lengthAdjust="spacingAndGlyphs">,</tspan><tspan x="1647.23" textLength="16.71" lengthAdjust="spacingAndGlyphs">4</tspan><tspan x="1664.23" textLength="15.50" lengthAdjust="spacingAndGlyphs">1</tspan><tspan x="1679.82" textLength="16.19" lengthAdjust="spacingAndGlyphs">8</tspan></text>
<text class="t" y="1407.1"><tspan x="1849.44" textLength="16.48" lengthAdjust="spacingAndGlyphs">6</tspan><tspan x="1865.33" textLength="8.85" lengthAdjust="spacingAndGlyphs">,</tspan><tspan x="1873.65" textLength="16.48" lengthAdjust="spacingAndGlyphs">6</tspan><tspan x="1890.30" textLength="15.10" lengthAdjust="spacingAndGlyphs">5</tspan><tspan x="1906.87" textLength="15.75" lengthAdjust="spacingAndGlyphs">9</tspan></text>
<text class="t" y="1407.1"><tspan x="2075.84" textLength="16.71" lengthAdjust="spacingAndGlyphs">7</tspan><tspan x="2091.68" textLength="8.85" lengthAdjust="spacingAndGlyphs">,</tspan><tspan x="2100.70" textLength="15.50" lengthAdjust="spacingAndGlyphs">1</tspan><tspan x="2115.91" textLength="16.94" lengthAdjust="spacingAndGlyphs">0</tspan><tspan x="2132.13" textLength="16.94" lengthAdjust="spacingAndGlyphs">0</tspan></text>
<text class="t" y="1407.1"><tspan x="2302.19" textLength="16.71" lengthAdjust="spacingAndGlyphs">7</tspan><tspan x="2318.02" textLength="8.85" lengthAdjust="spacingAndGlyphs">,</tspan><tspan x="2326.26" textLength="16.71" lengthAdjust="spacingAndGlyphs">4</tspan><tspan x="2342.55" textLength="16.48" lengthAdjust="spacingAndGlyphs">6</tspan><tspan x="2358.70" textLength="16.71" lengthAdjust="spacingAndGlyphs">4</tspan></text>
<text class="t" y="1480.6"><tspan x="769.93" textLength="16.53" lengthAdjust="spacingAndGlyphs">E</tspan><tspan x="786.43" textLength="26.54" lengthAdjust="spacingAndGlyphs">M</tspan><tspan x="813.60" textLength="17.90" lengthAdjust="spacingAndGlyphs">R</tspan></text>
<text class="t" y="1480.6"><tspan x="950.43" textLength="16.53" lengthAdjust="spacingAndGlyphs">E</tspan><tspan x="966.93" textLength="26.54" lengthAdjust="spacingAndGlyphs">M</tspan><tspan x="993.67" textLength="16.04" lengthAdjust="spacingAndGlyphs">T</tspan></text>
<text class="t" y="1480.6"><tspan x="1130.37" textLength="18.39" lengthAdjust="spacingAndGlyphs">A</tspan><tspan x="1148.72" textLength="16.58" lengthAdjust="spacingAndGlyphs">d</tspan><tspan x="1165.83" textLength="14.05" lengthAdjust="spacingAndGlyphs">v</tspan><tspan x="1180.00" textLength="13.78" lengthAdjust="spacingAndGlyphs">a</tspan><tspan x="1195.15" textLength="16.59" lengthAdjust="spacingAndGlyphs">n</tspan><tspan x="1211.67" textLength="13.72" lengthAdjust="spacingAndGlyphs">c</tspan><tspan x="1225.23" textLength="16.11" lengthAdjust="spacingAndGlyphs">e</tspan><tspan x="1241.11" textLength="16.58" lengthAdjust="spacingAndGlyphs">d</tspan><tspan x="1258.02"> </tspan><tspan x="1264.78" textLength="16.53" lengthAdjust="spacingAndGlyphs">E</tspan><tspan x="1281.29" textLength="26.54" lengthAdjust="spacingAndGlyphs">M</tspan><tspan x="1308.02" textLength="16.04" lengthAdjust="spacingAndGlyphs">T</tspan></text>
<text class="t" y="1480.6"><tspan x="1444.40" textLength="8.47" lengthAdjust="spacingAndGlyphs">I</tspan><tspan x="1452.87" textLength="16.59" lengthAdjust="spacingAndGlyphs">n</tspan><tspan x="1470.27" textLength="8.85" lengthAdjust="spacingAndGlyphs">t</tspan><tspan x="1479.84" textLength="16.11" lengthAdjust="spacingAndGlyphs">e</tspan><tspan x="1495.67" textLength="10.61" lengthAdjust="spacingAndGlyphs">r</tspan><tspan x="1506.92" textLength="25.23" lengthAdjust="spacingAndGlyphs">m</tspan><tspan x="1532.13" textLength="16.11" lengthAdjust="spacingAndGlyphs">e</tspan><tspan x="1548.02" textLength="16.58" lengthAdjust="spacingAndGlyphs">d</tspan><tspan x="1565.05" textLength="7.08" lengthAdjust="spacingAndGlyphs">i</tspan><tspan x="1572.19" textLength="13.78" lengthAdjust="spacingAndGlyphs">a</tspan><tspan x="1588.39" textLength="8.85" lengthAdjust="spacingAndGlyphs">t</tspan><tspan x="1597.96" textLength="16.11" lengthAdjust="spacingAndGlyphs">e</tspan></text>
<text class="t" y="1480.6"><tspan x="1734.86" textLength="16.59" lengthAdjust="spacingAndGlyphs">P</tspan><tspan x="1751.05" textLength="13.78" lengthAdjust="spacingAndGlyphs">a</tspan><tspan x="1765.96" textLength="10.61" lengthAdjust="spacingAndGlyphs">r</tspan><tspan x="1776.85" textLength="13.78" lengthAdjust="spacingAndGlyphs">a</tspan><tspan x="1791.89" textLength="25.23" lengthAdjust="spacingAndGlyphs">m</tspan><tspan x="1817.10" textLength="16.11" lengthAdjust="spacingAndGlyphs">e</tspan><tspan x="1832.99" textLength="16.58" lengthAdjust="spacingAndGlyphs">d</tspan><tspan x="1850.01" textLength="7.08" lengthAdjust="spacingAndGlyphs">i</tspan><tspan x="1857.15" textLength="13.72" lengthAdjust="spacingAndGlyphs">c</tspan></text>
<line x1="135.8" x2="204" y1="1192.3" y2="1192.3" stroke="#5aabf4" stroke-width="9" stroke-linecap="round"/>
<line x1="135.8" x2="204" y1="1243.5" y2="1243.5" stroke="#ec6325" stroke-width="9" stroke-linecap="round"/>
<line x1="135.8" x2="204" y1="1294.7" y2="1294.7" stroke="#979797" stroke-width="9" stroke-linecap="round"/>
<line x1="135.8" x2="204" y1="1345.9" y2="1345.9" stroke="#f5b912" stroke-width="9" stroke-linecap="round"/>
<line x1="135.8" x2="204" y1="1397.1" y2="1397.1" stroke="#3a6cf6" stroke-width="9" stroke-linecap="round"/>
<polyline points="527.9,1083.1 754.2,1086.2 980.6,1089.7 1206.9,1092.1 1433.2,1095.9 1659.6,1096.7 1885.9,1098.6 2112.3,1100.2 2338.6,1103.1" fill="none" stroke="#5aabf4" stroke-width="8.6" stroke-linecap="round" stroke-linejoin="round"/>
<polyline points="527.9,399.5 754.2,445.7 980.6,468.5 1206.9,483.0 1433.2,493.4 1659.6,469.3 1885.9,458.0 2112.3,445.7 2338.6,439.5" fill="none" stroke="#ec6325" stroke-width="8.6" stroke-linecap="round" stroke-linejoin="round"/>
<polyline points="527.9,1049.8 754.2,1052.9 980.6,1051.9 1206.9,1056.6 1433.2,1057.4 1659.6,1061.4 1885.9,1063.8 2112.3,1062.0 2338.6,1057.6" fill="none" stroke="#979797" stroke-width="8.6" stroke-linecap="round" stroke-linejoin="round"/>
<polyline points="527.9,1032.7 754.2,1030.4 980.6,1032.3 1206.9,1034.0 1433.2,1035.1 1659.6,1037.5 1885.9,1040.2 2112.3,1047.4 2338.6,1054.3" fill="none" stroke="#f5b912" stroke-width="8.6" stroke-linecap="round" stroke-linejoin="round"/>
<polyline points="527.9,984.6 754.2,974.5 980.6,964.0 1206.9,954.5 1433.2,945.9 1659.6,936.1 1885.9,929.3 2112.3,916.7 2338.6,906.4" fill="none" stroke="#3a6cf6" stroke-width="8.6" stroke-linecap="round" stroke-linejoin="round"/>
<line x1="694.0" x2="763.2" y1="1471.0" y2="1471.0" stroke="#5aabf4" stroke-width="7.6" stroke-linecap="round"/>
<line x1="875.0" x2="944.0" y1="1471.0" y2="1471.0" stroke="#ec6325" stroke-width="7.6" stroke-linecap="round"/>
<line x1="1054.0" x2="1123.1" y1="1471.0" y2="1471.0" stroke="#979797" stroke-width="7.6" stroke-linecap="round"/>
<line x1="1367.7" x2="1437.4" y1="1471.0" y2="1471.0" stroke="#f5b912" stroke-width="7.6" stroke-linecap="round"/>
<line x1="1658.6" x2="1728.2" y1="1471.0" y2="1471.0" stroke="#3a6cf6" stroke-width="7.6" stroke-linecap="round"/>
<g filter="url(#soft)">
<rect x="-20" y="1873.2" width="1951" height="75.3" fill="url(#bar)"/>
<rect x="0" y="1874" width="2.2" height="73" fill="#dedee9"/>
<rect x="0.6" y="1869.7" width="1960" height="3.4" fill="url(#lineg)" filter="url(#soft2)"/>
<polygon points="2074.6,1717.9 2640,1717.9 2640,1948.5 1930,1948.5 1930,1873.2 1948.2,1873.2" fill="#2e3272"/>
<polygon points="2072.6,1772.3 2094,1772.3 2104.4,1843.5 2100.7,1871.3 2090.2,1871.3" fill="#fff"/>
<text class="lg" y="1871.6" style="font-size:145px;font-weight:bold;font-style:italic"><tspan x="2059.07" textLength="93.76" lengthAdjust="spacingAndGlyphs">V</tspan><tspan x="2145.34" textLength="102.60" lengthAdjust="spacingAndGlyphs">D</tspan><tspan x="2249.11" textLength="99.08" lengthAdjust="spacingAndGlyphs">H</tspan></text>
<polygon points="2093.7,1768 2165.6,1768 2145.4,1875 2100.4,1875 2100.7,1871.8 2104.4,1843.5" fill="#2e3272"/>
<g fill="#fff">
<polygon points="2144.6,1771.8 2153.4,1771.8 2100.7,1871.8 2091.9,1871.8"/>
<polygon points="2128.1,1771.8 2136.1,1771.8 2107.1,1826.8 2105.2,1815.3"/>
<polygon points="2108.4,1771.8 2117.1,1771.8 2102.4,1799.6 2100.3,1787.1"/>
</g>
<text class="lg" x="2356.80" y="1796.0" style="font-size:31px;font-weight:bold" textLength="132.77" lengthAdjust="spacingAndGlyphs">VIRGINIA</text>
<text class="lg" x="2350.17" y="1832.5" style="font-size:31px;font-weight:bold" textLength="184.58" lengthAdjust="spacingAndGlyphs">DEPARTMENT</text>
<text class="lg" x="2341.62" y="1869.9" style="font-size:31px;font-weight:bold" textLength="153.80" lengthAdjust="spacingAndGlyphs">OF HEALTH</text>
<text class="lg" y="1901.1" style="font-size:24.9px;font-weight:bold;font-style:italic"><tspan x="2085.10" textLength="110.98" lengthAdjust="spacingAndGlyphs">Protecting</tspan> <tspan x="2202.89" textLength="39.49" lengthAdjust="spacingAndGlyphs">You</tspan> <tspan x="2250.30" textLength="37.62" lengthAdjust="spacingAndGlyphs">and</tspan> <tspan x="2299.06" textLength="45.86" lengthAdjust="spacingAndGlyphs">Your</tspan> <tspan x="2357.10" textLength="136.46" lengthAdjust="spacingAndGlyphs">Environment</tspan></text>
</g>
</svg></body></html>
